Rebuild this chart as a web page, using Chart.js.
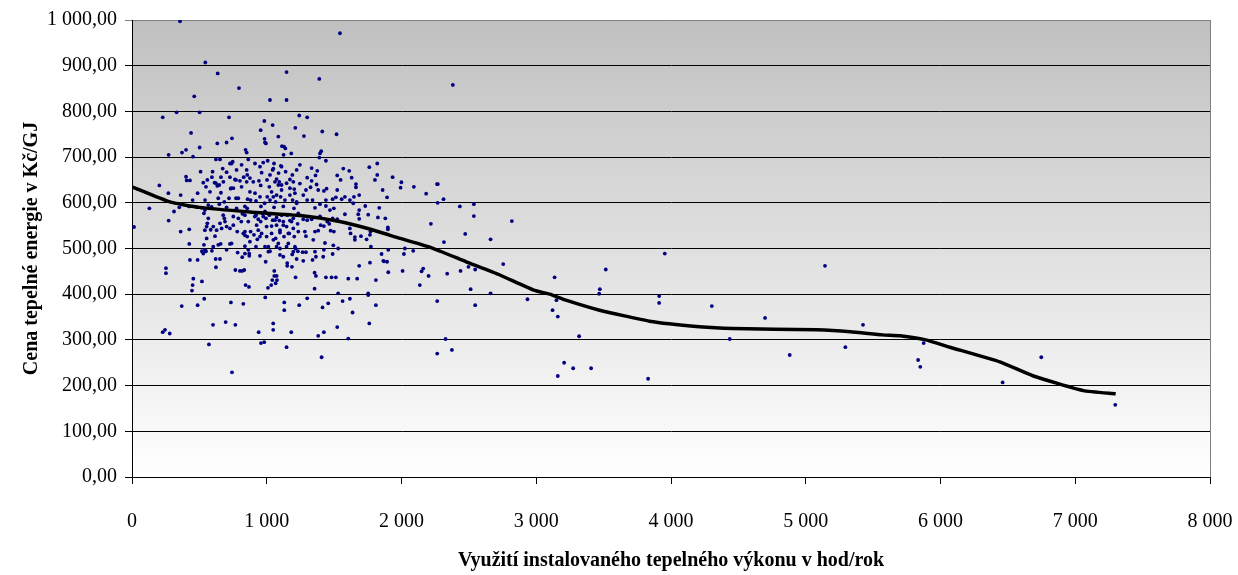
<!doctype html>
<html lang="cs">
<head>
    <meta charset="utf-8">
    <title>Cena tepelné energie</title>
    <script src="https://cdn.jsdelivr.net/npm/chart.js@4.4.0/dist/chart.umd.min.js"></script>
</head>
<style>
    html, body{
        margin: 0;
        padding: 0;
        background: #fff;
    }
    #wrap{
        width: 1238px;
        height: 575px;
        position: relative;
    }
</style>
<body>
    <div id="wrap">
        <canvas id="myChart"></canvas>
    </div>
  <script>
        // axis texts
        const xTitle = "Využití instalovaného tepelného výkonu v hod/rok";
        const yTitle = "Cena tepelné energie v Kč/GJ";
        const xTicks = [0, 1000, 2000, 3000, 4000, 5000, 6000, 7000, 8000];
        const yTicks = [0, 100, 200, 300, 400, 500, 600, 700, 800, 900, 1000];

        // trend line (klouzavý průměr)
        const trendHours = [0, 280, 500, 875, 1250, 1540, 1770, 1990, 2210, 2480, 2730, 2980, 3100, 3220, 3470, 3840, 4210, 4460, 5080, 5330, 5570, 5700, 5890, 6070, 6440, 6690, 7060, 7300];
        const trendPrice = [635, 602, 590, 580, 572, 559, 542, 522, 503, 471, 442, 409, 400, 387, 365, 341, 329, 325, 322, 318, 311, 309, 300, 284, 252, 221, 189, 182];

        // jednotlivé zdroje [hod/rok, Kč/GJ]
        const topPoints = [
            [356,997],[1543,971],[544,907],[636,883],[1147,886],[1390,871],[794,851],[462,833],[1024,825],[1147,825],[2381,858]
        ];
        const clusterUpper = [
            [228,787],[331,798],[502,798],[720,787],[1241,791],[982,779],[1044,770],[1212,764],[438,753],[955,759],
            [633,730],[702,732],[742,741],[984,740],[987,732],[994,730],[1086,745],[1113,724],[1128,723],[1138,719],
            [502,721],[843,716],[851,710],[401,716],[371,710],[272,705],[453,701],[1125,705],[1182,708],[623,695],
            [653,695],[727,686],[747,690],[913,686],[1007,692],[1054,686],[1105,681],[1110,679],[509,668],[598,668],
            [673,675],[702,667],[776,672],[851,672],[855,661],[962,666],[1044,672],[1024,661],[1088,665],[1140,668],
            [1190,661],[1222,672],[401,657],[406,649],[430,649],[529,644],[559,650],[593,656],[613,644],[633,637],
            [660,656],[678,646],[727,656],[732,631],[772,650],[801,648],[829,656],[875,654],[900,646],[942,648],
            [955,638],[1002,650],[1073,652],[1093,646],[1110,639],[1147,643],[1172,651],[1204,630],[203,638],[129,588],
            [15,547],[272,561],[312,581],[361,537],[361,617],[450,606],[487,621],[542,606],[517,589],[425,592],
            [351,590],[566,566],[559,555],[584,541],[554,548],[640,610],[648,597],[660,622],[685,602],[702,590],
            [720,610],[735,632],[772,610],[789,610],[819,576],[838,592],[858,608],[855,588],[880,606],[913,621],
            [920,604],[950,613],[957,592],[984,599],[1004,613],[1024,606],[1054,590],[1066,602],[1073,617],[1103,613],
            [1123,592],[1135,606],[1172,617],[1192,606],[1202,588],[1222,599],[1234,577],[789,566],[811,559],[838,573],
            [920,573],[937,564],[969,577],[994,566],[1019,573],[1044,562],[1036,549],[1073,568],[1093,561],[1123,551],
            [1152,573],[1172,561],[1197,566],[1229,554],[685,566],[653,555],[665,544],[603,548],[727,544],[752,551],
            [781,537],[826,533],[855,526],[880,537],[905,530],[930,520],[962,533],[999,526],[1036,533],[1066,522],
            [1098,535],[1128,526],[1167,533],[1204,526],[1234,537],[534,508],[425,510],[640,508],[658,510],[727,510],
            [739,511],[603,504],[838,505],[920,504],[987,504],[1073,504],[1147,504],[1214,500],[270,621],[549,635],
            [579,624]
        ];
        const clusterDense = [
            [813,683],[863,695],[950,679],[974,688],[1049,675],[1246,683],[739,686],[764,651],[813,635],[851,646],
            [875,624],[1019,635],[1036,624],[1061,646],[1049,613],[1110,628],[1172,632],[1197,646],[1209,621],[1222,602],
            [534,577],[541,584],[566,595],[591,591],[628,540],[677,573],[690,559],[702,548],[752,570],[776,588],
            [838,537],[863,559],[912,570],[925,551],[937,540],[955,559],[974,570],[987,581],[999,548],[1061,562],
            [1073,551],[1098,540],[1110,573],[1123,559],[1147,548],[1160,533],[1184,559],[1197,544],[425,542],[541,540],
            [554,522],[616,527],[838,529],[875,515],[950,526],[1012,504],[1049,519],[1086,511],[1098,500],[1160,511],
            [1209,504],[541,497],[529,489],[702,497],[838,489],[863,497],[1012,493],[1123,482],[1197,493],[623,643],
            [648,639],[752,632],[1086,639]
        ];
        const clusterRight = [
            [1246,642],[1518,750],[1412,756],[1300,787],[1276,746],[1404,713],[1395,708],[1390,699],[1439,692],[1568,675],
            [1612,670],[1630,655],[1662,641],[1662,634],[1686,617],[1647,613],[1617,606],[1580,613],[1556,608],[1523,628],
            [1523,660],[1548,650],[1444,631],[1424,626],[1439,606],[1489,608],[1513,612],[1642,599],[1686,584],[1731,593],
            [1679,575],[1580,575],[1498,588],[1439,593],[1469,584],[1395,597],[1395,570],[1358,589],[1340,606],[1325,634],
            [1370,640],[1382,628],[1333,676],[1375,670],[1300,655],[1333,648],[1362,660],[1291,628],[1271,617],[1300,606],
            [1489,566],[1523,564],[1449,559],[1400,551],[1424,549],[1464,554],[1271,564],[1300,562],[1333,564],[1283,537],
            [1291,527],[1358,537],[1382,539],[1474,539],[1498,537],[1345,519],[1432,512],[1494,507],[1530,500],[1424,497],
            [1358,493],[1266,492],[1291,492],[1489,488],[1419,482],[1365,482],[1271,473],[1340,475],[1617,544],[1622,533],
            [1654,525],[1654,519],[1699,527],[1741,520],[1686,565],[1770,537],[2263,641],[2270,641],[2183,620],[2312,608],
            [2268,600],[2433,592],[2537,597],[2537,571],[2819,560],[2218,554],[2315,514],[2473,532],[2661,520],[2755,466],
            [2513,411],[2661,402],[2935,389],[1934,656],[1999,645],[1993,633],[2092,635],[1820,686],[1820,661],[1761,678],
            [1803,650],[1860,628],[1893,612],[1835,589],[1880,566],[1825,568],[1899,546],[1899,542],[1753,574],[1766,530],
            [1773,504],[1902,497],[2025,500],[2018,488],[2087,495],[1852,488],[1865,473],[1870,472],[1893,471],[1766,469],
            [1686,462],[1902,448],[1810,431],[1671,434],[1605,434],[2008,451],[2149,450],[2161,456],[2201,440],[2136,420],
            [2339,445],[2438,451],[2497,460],[2547,454],[1753,402],[1753,398],[1530,402],[1617,390],[1355,412]
        ];
        const clusterLower = [
            [252,457],[252,446],[228,317],[245,322],[280,314],[369,374],[430,475],[487,475],[445,408],[450,420],
            [455,434],[487,376],[519,428],[536,390],[519,494],[549,494],[571,290],[601,333],[623,459],[621,477],
            [653,477],[593,495],[695,339],[734,382],[742,229],[767,333],[767,453],[784,491],[801,451],[818,451],
            [833,453],[818,481],[826,379],[843,420],[868,416],[870,489],[870,484],[950,484],[940,317],[957,293],
            [981,295],[989,393],[992,471],[1009,414],[1024,494],[1033,420],[1041,431],[1056,451],[1056,440],[1073,440],
            [1066,424],[1076,431],[1048,336],[1048,322],[1098,486],[1130,382],[1130,365],[1147,284],[1152,468],[1152,462],
            [1182,317],[1189,487],[1187,460],[1214,437],[1222,477],[1231,494],[1241,376],
            [1355,447],[1365,440],[1300,391],[1439,437],[1481,437],[1513,437],[1414,371],[1456,380],[1563,385],[1637,360],
            [1523,328],[1382,309],[1424,317],[1605,303],[1407,262],[1810,376],[1761,336],[2265,385],[2265,270],[2327,302],
            [2374,278],[2547,376]
        ];
        const farPoints = [
            [3136,437],[3150,387],[3121,365],[3160,351],[3318,308],[3207,250],[3160,221],[3274,238],[3407,238],[3516,454],
            [3472,411],[3467,401],[3954,489],[3912,396],[3912,381],[3830,215],[4303,374],[4436,302],[4698,348],[4881,267],
            [5143,462],[5294,284],[5425,333],[5875,293],[5834,256],[5850,241],[6461,207],[6748,262],[7297,158]
        ];

        let fmtNum = (v, dec) => {
            let parts = v.toFixed(dec).split(".");
            let whole = parts[0].replace(/\B(?=(\d{3})+(?!\d))/g, " ");
            return dec > 0 ? whole + "," + parts[1] : whole;
        }

        let toXY = (list) => list.map(p => ({x: p[0], y: p[1]}));

        let scatterData = []
            .concat(toXY(topPoints))
            .concat(toXY(clusterUpper))
            .concat(toXY(clusterDense))
            .concat(toXY(clusterRight))
            .concat(toXY(clusterLower))
            .concat(toXY(farPoints));

        let trendData = trendHours.map((h, i) => ({x: h, y: trendPrice[i]}));

        // šedý přechod za plochou grafu + pravý okraj
        const plotBackground = {
            id: "plotBackground",
            beforeDraw(chart){
                const {ctx, chartArea} = chart;
                if (!chartArea) return;
                let g = ctx.createLinearGradient(0, chartArea.top, 0, chartArea.bottom);
                g.addColorStop(0, "#c0c0c0");
                g.addColorStop(1, "#ffffff");
                ctx.save();
                ctx.fillStyle = g;
                ctx.fillRect(chartArea.left, chartArea.top, chartArea.right - chartArea.left, chartArea.bottom - chartArea.top);
                ctx.restore();
            },
            afterDatasetsDraw(chart){
                const {ctx, chartArea} = chart;
                ctx.save();
                ctx.strokeStyle = "#808080";
                ctx.lineWidth = 1;
                ctx.beginPath();
                ctx.moveTo(chartArea.right + 0.5, chartArea.top);
                ctx.lineTo(chartArea.right + 0.5, chartArea.bottom);
                ctx.stroke();
                ctx.restore();
            }
        };

        Chart.defaults.font.family = "'Liberation Serif', 'Times New Roman', serif";
        Chart.defaults.color = "#000";

        let ctx = document.getElementById("myChart");
        let myChart = new Chart(ctx, {
            type: "scatter",
            data: {
                datasets: [{
                    type: "line",
                    label: "trend",
                    data: trendData,
                    borderColor: "#000",
                    borderWidth: 3.5,
                    pointRadius: 0,
                    tension: 0.15,
                    fill: false
                }, {
                    label: "zdroje",
                    data: scatterData,
                    backgroundColor: "#000080",
                    borderColor: "#000080",
                    borderWidth: 0,
                    pointRadius: 1.9,
                    pointHoverRadius: 1.9
                }]
            },
            options: {
                responsive: true,
                maintainAspectRatio: false,
                animation: false,
                events: [],
                layout: {
                    padding: {top: 20, right: 28, left: 0, bottom: 0}
                },
                plugins: {
                    legend: {display: false},
                    tooltip: {enabled: false}
                },
                scales: {
                    x: {
                        type: "linear",
                        min: 0,
                        max: 8000,
                        afterBuildTicks: (s) => { s.ticks = xTicks.map(v => ({value: v})); },
                        afterFit: (s) => {
                            s.height = 98;
                            s.paddingLeft = 0;
                            s.paddingRight = 0;
                        },
                        ticks: {
                            font: {size: 20},
                            padding: 26,
                            maxRotation: 0,
                            callback: (v) => fmtNum(v, 0)
                        },
                        grid: {
                            drawOnChartArea: false,
                            drawTicks: true,
                            tickLength: 7,
                            color: "#000"
                        },
                        border: {display: true, color: "#000", width: 1},
                        title: {
                            display: true,
                            text: xTitle,
                            font: {size: 20, weight: "bold"},
                            padding: {top: 0, bottom: 2}
                        }
                    },
                    y: {
                        type: "linear",
                        min: 0,
                        max: 1000,
                        afterBuildTicks: (s) => { s.ticks = yTicks.map(v => ({value: v})); },
                        afterFit: (s) => { s.width = 132; },
                        ticks: {
                            font: {size: 20},
                            padding: 8,
                            callback: (v) => fmtNum(v, 2)
                        },
                        grid: {
                            drawTicks: true,
                            tickLength: 7,
                            color: (c) => (c.tick && c.tick.value === 1000) ? "#808080" : "#000",
                            lineWidth: 1
                        },
                        border: {display: true, color: "#000", width: 1},
                        title: {
                            display: true,
                            text: yTitle,
                            font: {size: 20, weight: "bold"},
                            padding: {top: 20, bottom: 0}
                        }
                    }
                }
            },
            plugins: [plotBackground]
        });
  </script>
</body>
</html>
